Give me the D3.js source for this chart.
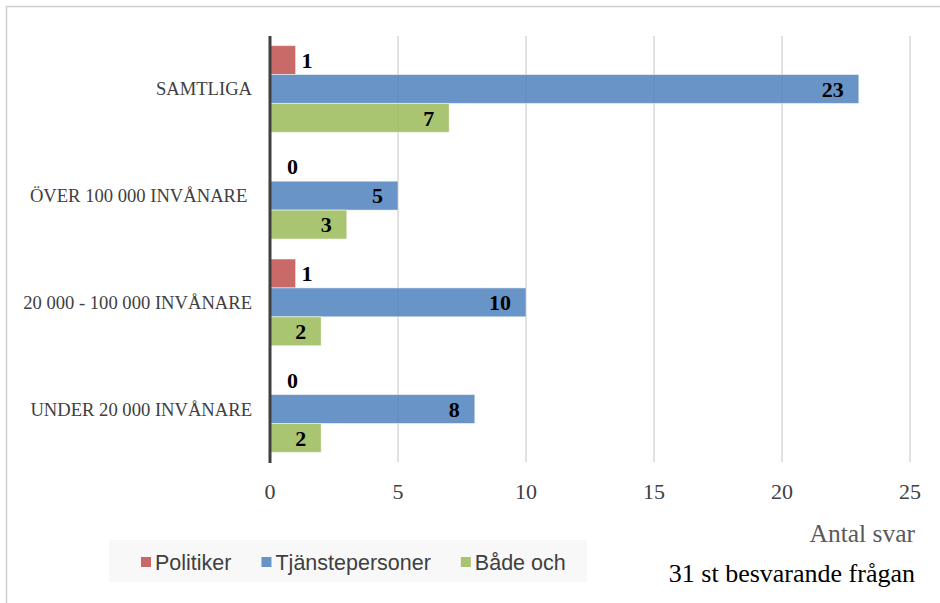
<!DOCTYPE html>
<html>
<head>
<meta charset="utf-8">
<script src="https://cdn.jsdelivr.net/npm/d3@7"></script>
<style>
  body { margin: 0; background: #fff; }
  svg { display: block; }
</style>
</head>
<body>
<svg id="chart" width="940" height="603"></svg>
<script>
/* Horizontal grouped bar chart: answers per municipality size */

const CATEGORIES = [
  "SAMTLIGA",
  "ÖVER 100 000 INVÅNARE ",
  "20 000 - 100 000 INVÅNARE",
  "UNDER 20 000 INVÅNARE"
];
const SERIES = ["Politiker", "Tjänstepersoner", "Både och"];
const POLITIKER = [1, 0, 1, 0];
const TJANSTEPERSONER = [23, 5, 10, 8];
const BADE_OCH = [7, 3, 2, 2];
const X_TICKS = [0, 5, 10, 15, 20, 25];
const COLORS = ["#C0504D", "#4F81BD", "#9BBB59"];

(function() {
  const svg = d3.select("#chart");
  const values = [POLITIKER, TJANSTEPERSONER, BADE_OCH];

  const rows = CATEGORIES.map((c, i) => ({
    name: c,
    items: SERIES.map((s, j) => ({ series: s, value: values[j][i] }))
  }));

  const plot = { left: 270, right: 910, top: 36, bottom: 462 };
  const serif = "'Liberation Serif', 'Times New Roman', serif";

  const x = d3.scaleLinear().domain([0, 25]).range([plot.left, plot.right]);
  const y0 = d3
    .scaleBand()
    .domain(CATEGORIES)
    .range([plot.top, plot.bottom])
    .paddingInner(0.187)
    .paddingOuter(0.09);
  const y1 = d3.scaleBand().domain(SERIES).range([0, y0.bandwidth()]);
  const color = d3.scaleOrdinal().domain(SERIES).range(COLORS);

  // outer frame (only left and top edges fall inside the picture)
  svg
    .append("rect")
    .attr("x", 6.5)
    .attr("y", 6.5)
    .attr("width", 960)
    .attr("height", 620)
    .attr("fill", "none")
    .attr("stroke", "#CFCFCF")
    .attr("stroke-width", 1.5);

  // gridlines
  svg
    .append("g")
    .selectAll("line")
    .data(X_TICKS.filter(d => d > 0))
    .enter()
    .append("line")
    .attr("x1", d => x(d))
    .attr("x2", d => x(d))
    .attr("y1", plot.top)
    .attr("y2", plot.bottom)
    .attr("stroke", "#C4C4C4")
    .attr("stroke-width", 1);

  // tick labels
  svg
    .append("g")
    .selectAll("text")
    .data(X_TICKS)
    .enter()
    .append("text")
    .attr("x", d => x(d))
    .attr("y", 499)
    .attr("text-anchor", "middle")
    .attr("font-family", serif)
    .attr("font-size", 22)
    .attr("fill", "#404040")
    .text(d => d);

  // bars
  const group = svg
    .append("g")
    .selectAll("g")
    .data(rows)
    .enter()
    .append("g")
    .attr("transform", d => `translate(0, ${y0(d.name)})`);

  group
    .selectAll("rect")
    .data(d => d.items)
    .enter()
    .append("rect")
    .attr("x", x(0))
    .attr("y", d => y1(d.series))
    .attr("width", d => x(d.value) - x(0))
    .attr("height", y1.bandwidth())
    .attr("fill", d => color(d.series))
    .attr("fill-opacity", 0.85)
    .attr("stroke", "#fff")
    .attr("stroke-opacity", 0.5)
    .attr("stroke-width", 1);

  // value labels: inside end when the bar is long enough, else outside
  group
    .selectAll("text")
    .data(d => d.items)
    .enter()
    .append("text")
    .attr("x", d =>
      d.value >= 2 ? x(d.value) - 15 : Math.max(x(d.value) + 6, x(0) + 17)
    )
    .attr("y", d => y1(d.series) + y1.bandwidth() / 2)
    .attr("dy", "0.35em")
    .attr("text-anchor", d => (d.value >= 2 ? "end" : "start"))
    .attr("font-family", serif)
    .attr("font-weight", "bold")
    .attr("font-size", 22)
    .attr("fill", "#000")
    .text(d => d.value);

  // category labels
  svg
    .append("g")
    .selectAll("text")
    .data(CATEGORIES)
    .enter()
    .append("text")
    .attr("x", 252)
    .attr("y", d => y0(d) + y0.bandwidth() / 2)
    .attr("dy", "0.35em")
    .attr("text-anchor", "end")
    .attr("font-family", serif)
    .attr("font-size", 18.6)
    .attr("fill", "#404040")
    .style("white-space", "pre")
    .text(d => d);

  // zero axis line
  svg
    .append("line")
    .attr("x1", x(0))
    .attr("x2", x(0))
    .attr("y1", plot.top)
    .attr("y2", plot.bottom + 1)
    .attr("stroke", "#404040")
    .attr("stroke-width", 3);

  // axis title and note
  svg
    .append("text")
    .attr("x", 915)
    .attr("y", 542)
    .attr("text-anchor", "end")
    .attr("font-family", serif)
    .attr("font-size", 25.5)
    .attr("fill", "#595959")
    .text("Antal svar");

  svg
    .append("text")
    .attr("x", 915)
    .attr("y", 582)
    .attr("text-anchor", "end")
    .attr("font-family", serif)
    .attr("font-size", 26)
    .attr("fill", "#000")
    .text("31 st besvarande frågan");

  // legend
  const legend = svg.append("g");
  legend
    .append("rect")
    .attr("x", 109)
    .attr("y", 540)
    .attr("width", 478)
    .attr("height", 42)
    .attr("fill", "#F8F8F8");

  let lx = 141;
  SERIES.forEach(s => {
    const item = legend.append("g").attr("transform", `translate(${lx}, 557)`);
    item
      .append("rect")
      .attr("width", 10)
      .attr("height", 10)
      .attr("fill", color(s))
      .attr("fill-opacity", 0.85);
    const label = item
      .append("text")
      .attr("x", 14)
      .attr("y", 5)
      .attr("dy", "0.35em")
      .attr("font-family", "'Liberation Sans', Arial, sans-serif")
      .attr("font-size", 21.5)
      .attr("fill", "#404040")
      .text(s);
    lx += 14 + label.node().getComputedTextLength() + 30;
  });
})();
</script>
</body>
</html>
